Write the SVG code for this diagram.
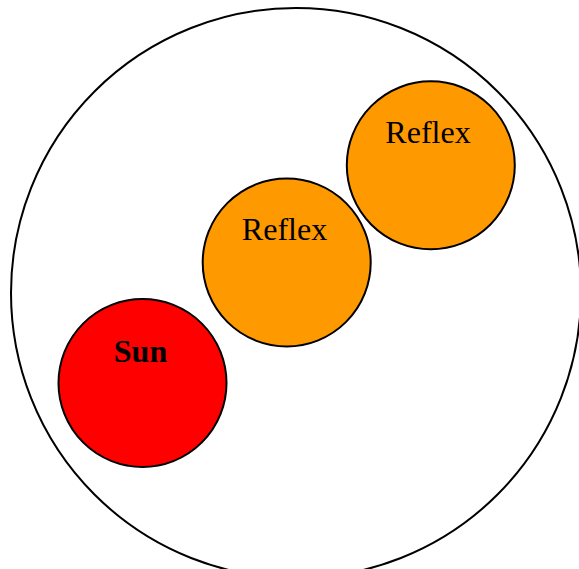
<svg xmlns="http://www.w3.org/2000/svg" width="579" height="569" viewBox="0 0 579 569">
<style>
.c{stroke:#000;stroke-width:2}
.t{font-family:"Liberation Serif","Times New Roman",serif;font-size:32px;fill:#000;text-anchor:middle}
</style>
<rect width="579" height="569" fill="#fff"/>
<g id="outer"><circle cx="296" cy="293" r="285" fill="none" class="c"/></g>
<g id="sun"><circle cx="142.5" cy="383" r="84" fill="#FF0000" class="c"/><text class="t" x="140.5" y="362" font-weight="bold">Sun</text></g>
<g id="reflex1"><circle cx="286.7" cy="262.5" r="84" fill="#FF9900" class="c"/><text class="t" x="284.5" y="240">Reflex</text></g>
<g id="reflex2"><circle cx="430.8" cy="165.3" r="84" fill="#FF9900" class="c"/><text class="t" x="428" y="143">Reflex</text></g>
<g id="connectors"/>
</svg>
